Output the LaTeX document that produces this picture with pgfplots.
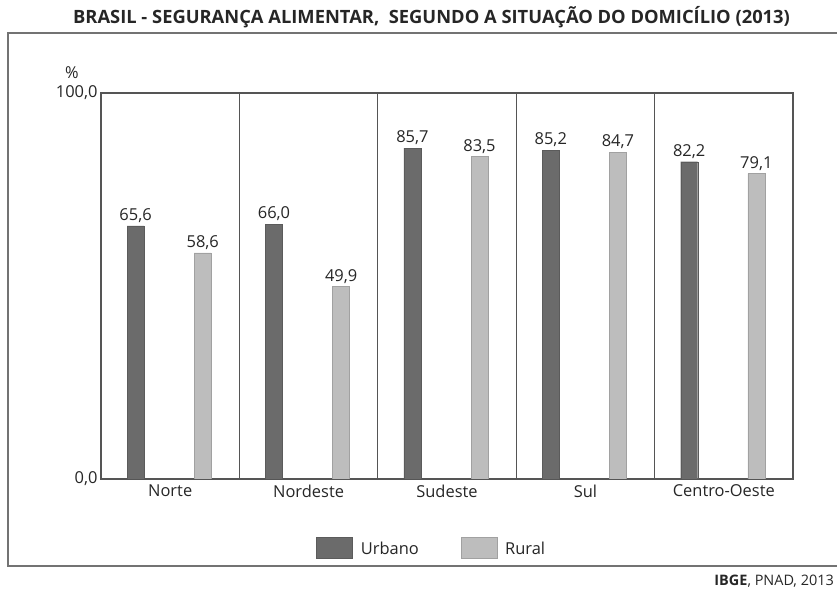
\documentclass[border=0pt]{standalone}
\usepackage{pgfplots}
\pgfplotsset{compat=1.18}
\usepackage{fontspec}
\setmainfont{Open Sans}
\definecolor{urb}{HTML}{6B6B6B}
\definecolor{rur}{HTML}{BDBDBD}
\definecolor{axc}{HTML}{555555}

\begin{document}
\begin{tikzpicture}
\useasboundingbox (0bp,0bp) rectangle (837bp,590bp);
% outer frame, runs off the right edge
\draw[color=black!55, line width=1.5bp] (8bp,24bp) rectangle (900bp,557bp);
\node[font=\bfseries\fontsize{18.4}{21}\selectfont, text=black!85] at (431.5bp,573bp)
  {BRASIL - SEGURANÇA ALIMENTAR,\ \ SEGUNDO A SITUAÇÃO DO DOMICÍLIO (2013)};
\node[anchor=south east, font=\fontsize{14.5}{17}\selectfont, text=black!85, inner sep=1bp] at (835bp,1.5bp)
  {\textbf{IBGE}, PNAD, 2013};
\node[font=\fontsize{16.5}{18}\selectfont, text=black!85] at (72bp,517bp) {\%};

\begin{axis}[
    at={(101bp,111bp)}, anchor=south west,
    scale only axis, width=692bp, height=386bp,
    xmin=0, xmax=5, ymin=0, ymax=100,
    axis line style={axc, line width=1.2bp},
    xtick={0.5,1.5,2.5,3.5,4.5},
    xticklabels={Norte,Nordeste,Sudeste,Sul,Centro-Oeste},
    ytick={0,100}, yticklabels={{0,0},{100,0}},
    major tick length=0pt,
    tick label style={font=\fontsize{16.5}{18}\selectfont, text=black!85},
    xticklabel style={yshift=-2bp},
    extra x ticks={1,2,3,4}, extra x tick labels={},
    extra x tick style={grid=major, major grid style={axc, line width=1bp}},
    /pgf/number format/assume math mode=true,
    nodes near coords={\pgfmathprintnumber[fixed,zerofill,precision=1,use comma]{\pgfplotspointmeta}},
    nodes near coords style={font=\fontsize{16.5}{18}\selectfont, text=black!85, inner sep=3bp},
    legend style={at={(0.478,-0.179)}, anchor=center, draw=none, legend columns=2,
      font=\fontsize{16.5}{18}\selectfont, text=black!85,
      /tikz/every odd column/.append style={column sep=6bp},
      /tikz/every even column/.append style={column sep=40bp}},
    legend image code/.code={\draw[#1] (0bp,-10bp) rectangle (36bp,11bp);},
]
\addplot[ybar, bar width=17bp, bar shift=0pt, fill=urb, draw=urb!85!black]
  coordinates {(0.25,65.6) (1.25,66.0) (2.25,85.7) (3.25,85.2) (4.25,82.2)};
\addlegendentry{Urbano}
\addplot[ybar, bar width=17bp, bar shift=0pt, fill=rur, draw=rur!85!black]
  coordinates {(0.735,58.6) (1.735,49.9) (2.735,83.5) (3.735,84.7) (4.735,79.1)};
\addlegendentry{Rural}
\end{axis}
\end{tikzpicture}
\end{document}
